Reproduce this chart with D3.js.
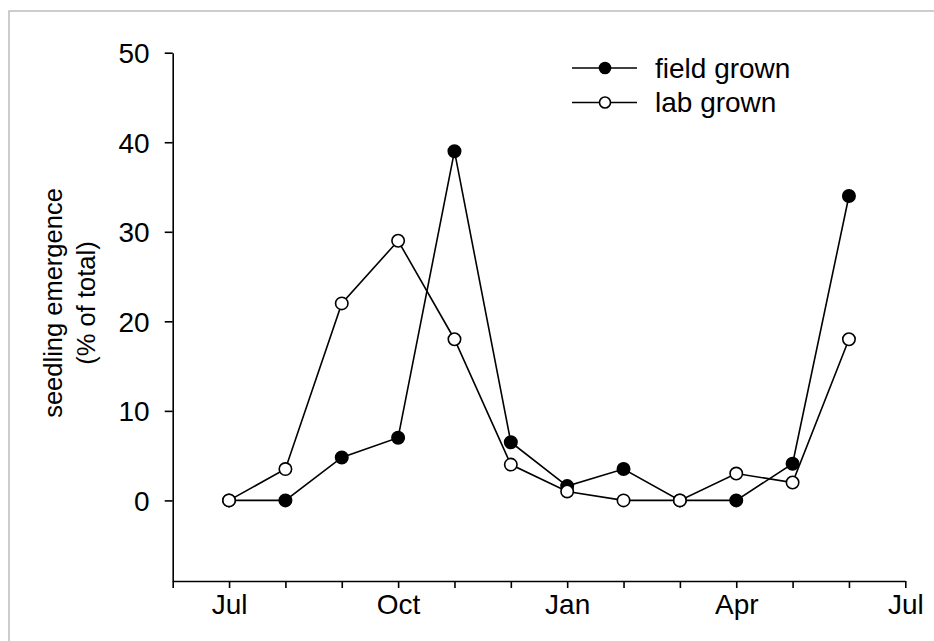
<!DOCTYPE html>
<html>
<head>
<meta charset="utf-8">
<script src="https://cdn.jsdelivr.net/npm/d3@7"></script>
<style>
  body { margin: 0; background: #fff; }
  svg { display: block; font-family: "Liberation Sans", Arial, sans-serif; }
</style>
</head>
<body>
<script>
// months from Jun to Jul of the next year (index 0..13)
var months = ["Jun","Jul","Aug","Sep","Oct","Nov","Dec","Jan","Feb","Mar","Apr","May","Jun","Jul"];
var tickLabels = ["", "Jul", "", "", "Oct", "", "", "Jan", "", "", "Apr", "", "", "Jul"];
// sampled months (index into months)
var sampleIdx = [1, 2, 3, 4, 5, 6, 7, 8, 9, 10, 11, 12];
var fieldGrown = [0, 0, 4.8, 7, 39, 6.5, 1.6, 3.5, 0, 0, 4.1, 34];
var labGrown   = [0, 3.5, 22, 29, 18, 4, 1, 0, 0, 3, 2, 18];
var yTicks = [0, 10, 20, 30, 40, 50];

var width = 934, height = 641;

var svg = d3.select("body").append("svg")
    .attr("width", width)
    .attr("height", height);

// light frame around the figure
svg.append("rect")
    .attr("x", 9).attr("y", 11)
    .attr("width", width).attr("height", height)
    .attr("fill", "none")
    .attr("stroke", "#bdbdbd")
    .attr("stroke-width", 1.5);

var x = d3.scaleLinear().domain([0, 13]).range([172.7, 905.3]);
var y = d3.scaleLinear().domain([-9, 50]).range([581, 52.7]);

// axes
var xAxis = svg.append("g")
    .attr("transform", "translate(0," + y(-9) + ")")
    .call(d3.axisBottom(x)
        .tickValues(d3.range(0, 14))
        .tickFormat(function(d) { return tickLabels[d]; })
        .tickSize(7)
        .tickPadding(6)
        .tickSizeOuter(0));

var yAxis = svg.append("g")
    .attr("transform", "translate(" + x(0) + ",0)")
    .call(d3.axisLeft(y)
        .tickValues(yTicks)
        .tickSize(8)
        .tickPadding(15)
        .tickSizeOuter(0));

svg.selectAll(".domain, .tick line")
    .attr("stroke", "#000")
    .attr("stroke-width", 1.6);
svg.selectAll(".tick text")
    .attr("fill", "#000")
    .style("font-size", "28px")
    .style("font-family", "'Liberation Sans', Arial, sans-serif");
yAxis.selectAll(".tick text").attr("dy", "0.36em");

// y label
var yl = svg.append("text")
    .attr("transform", "translate(0,303) rotate(-90)")
    .attr("text-anchor", "middle")
    .style("font-size", "25.5px")
    .attr("fill", "#000");
yl.append("tspan").attr("x", 0).attr("y", 62).text("seedling emergence");
yl.append("tspan").attr("x", 0).attr("y", 95).text("(% of total)");

var line = d3.line()
    .x(function(d) { return x(d[0]); })
    .y(function(d) { return y(d[1]); });

function drawSeries(vals, fill) {
    var pts = sampleIdx.map(function(m, i) { return [m, vals[i]]; });
    svg.append("path")
        .datum(pts)
        .attr("d", line)
        .attr("fill", "none")
        .attr("stroke", "#000")
        .attr("stroke-width", 1.6);
    svg.selectAll(null)
        .data(pts)
        .enter().append("circle")
        .attr("cx", function(d) { return x(d[0]); })
        .attr("cy", function(d) { return y(d[1]); })
        .attr("r", 6.2)
        .attr("fill", fill)
        .attr("stroke", "#000")
        .attr("stroke-width", 1.6);
}

drawSeries(fieldGrown, "#000");
drawSeries(labGrown, "#fff");

// legend
var legend = [
    {name: "field grown", fill: "#000", y: 68},
    {name: "lab grown", fill: "#fff", y: 102.5}
];
legend.forEach(function(l) {
    svg.append("line")
        .attr("x1", 572).attr("x2", 637)
        .attr("y1", l.y).attr("y2", l.y)
        .attr("stroke", "#000").attr("stroke-width", 1.6);
    svg.append("circle")
        .attr("cx", 605).attr("cy", l.y).attr("r", 5.5)
        .attr("fill", l.fill).attr("stroke", "#000").attr("stroke-width", 1.6);
    svg.append("text")
        .attr("x", 655).attr("y", l.y + 9.5)
        .style("font-size", "28px")
        .attr("fill", "#000")
        .text(l.name);
});
</script>
</body>
</html>
